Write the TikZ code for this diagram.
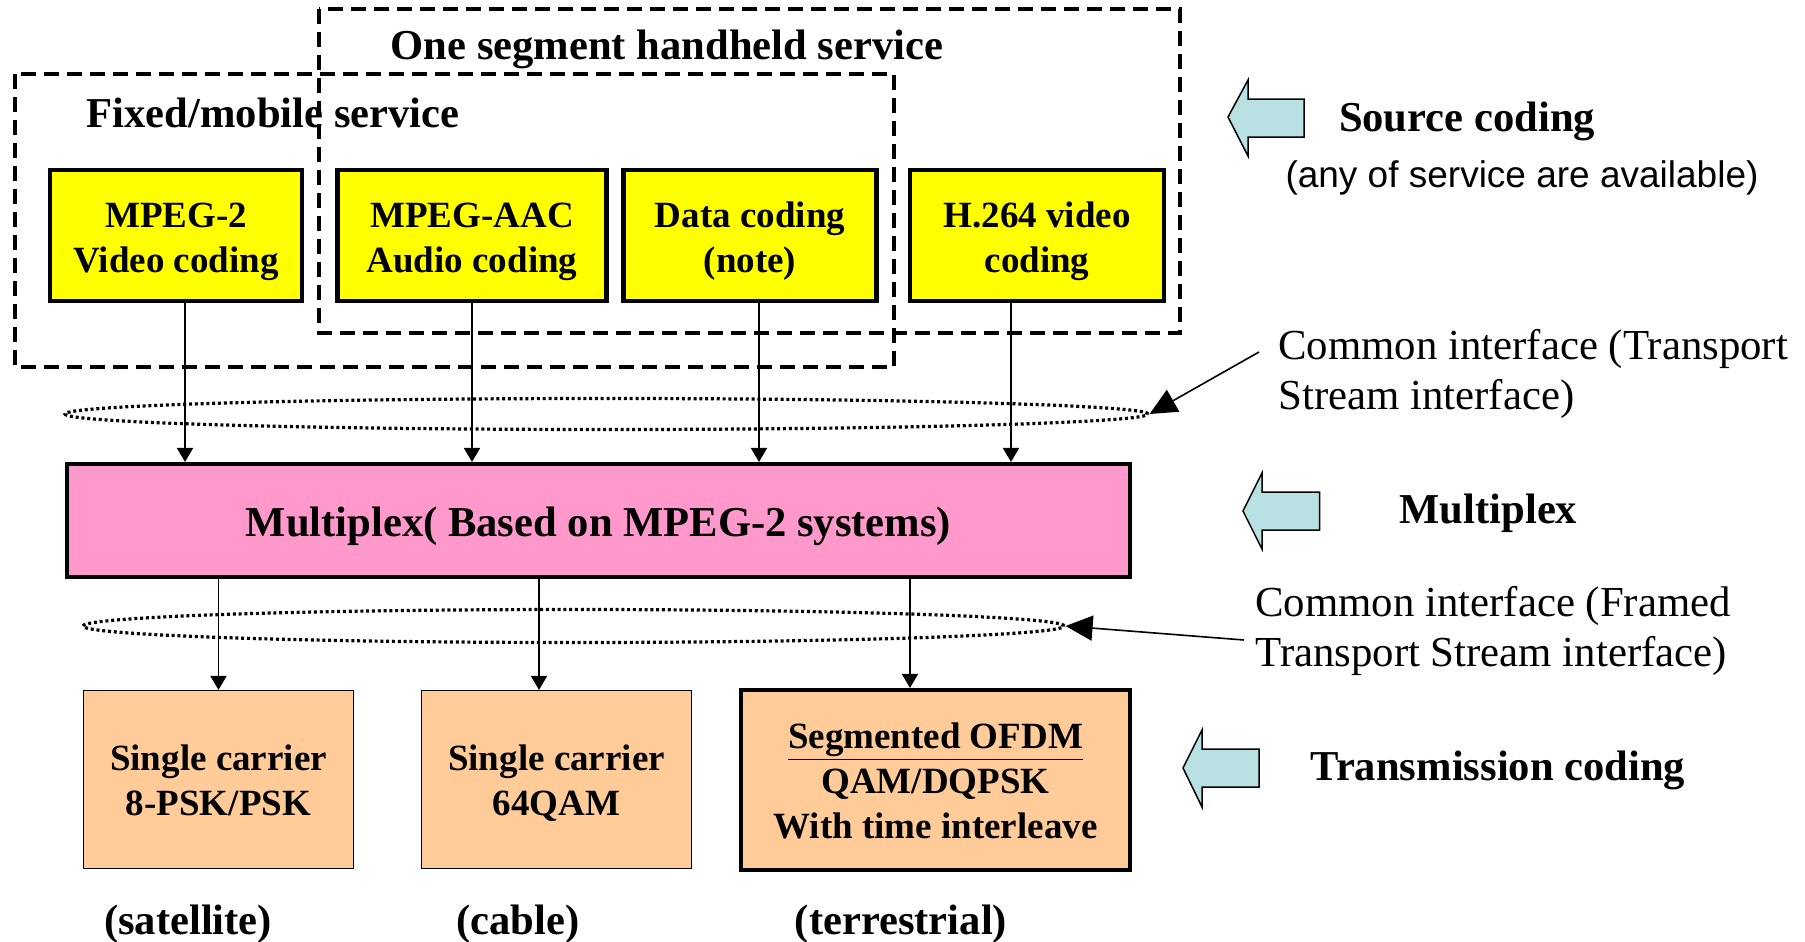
\documentclass[tikz,border=0pt]{standalone}
\usepackage{fontspec}
\setmainfont{Liberation Serif}
\newfontfamily\arialfont{Liberation Sans}
\usetikzlibrary{shapes.geometric,arrows.meta}
\definecolor{ylw}{RGB}{255,255,0}
\definecolor{pnk}{RGB}{255,153,204}
\definecolor{org}{RGB}{255,204,153}
\definecolor{lblue}{RGB}{185,224,226}
\newcommand{\myBig}{\fontsize{21.3}{25}\selectfont\bfseries}
\newcommand{\myBox}{\fontsize{18.5}{22.5}\selectfont\bfseries}
\newcommand{\myReg}{\fontsize{21.4}{25.3}\selectfont}
\newcommand{\myArial}{\fontsize{18.5}{22}\selectfont\arialfont}
% lower the ink of a (multi-line) text without changing its reported box
\newcommand{\dn}[2]{\raisebox{-#1}[\height][\depth]{\begin{tabular}{@{}c@{}}#2\end{tabular}}}
\begin{document}
\begin{tikzpicture}[x=0.5pt,y=-0.5pt,
  ybox/.style={draw, fill=ylw, line width=2.25pt, inner sep=0pt, minimum height=65.3pt, font=\myBox},
  mbox/.style={draw, fill=pnk, line width=2.25pt, inner sep=0pt, minimum width=531.3pt, minimum height=56.3pt, font=\myBig},
  obox/.style={draw, fill=org, line width=0.6pt, inner sep=0pt, minimum width=135pt, minimum height=89pt, font=\myBox},
  obold/.style={obox, line width=2.25pt, minimum width=194.3pt, minimum height=89.8pt},
  dashbox/.style={line width=1.6pt, dash pattern=on 7.5pt off 4pt},
  dotell/.style={ellipse, draw, line width=1.6pt, dash pattern=on 1.5pt off 1.4pt, inner sep=0pt},
  conn/.style={line width=0.9pt, -{Triangle[length=7pt,width=8pt]}},
  lead/.style={line width=0.8pt, -{Triangle[length=13.5pt,width=12.5pt]}},
  barrow/.style={draw, fill=lblue, line width=0.75pt, line join=miter},
  ttl/.style={font=\myBig, inner sep=0pt},
  reg/.style={font=\myReg, inner sep=0pt, align=left, anchor=west}
]
\useasboundingbox (0,0) rectangle (1805,942);
\fill[white] (0,0) rectangle (1805,942);

% dashed service groups
\draw[dashbox] (319,9) rectangle (1180,333);
\draw[dashbox] (15,74) rectangle (894,367);
\node[ttl] (t1) at (667,49.5) {One segment handheld service};
\node[ttl] (t2) at (273,113) {Fixed/mobile service};

% source coding boxes
\node[ybox, minimum width=126pt] (y1) at (176,235.5) {\dn{2.75pt}{MPEG-2\\Video coding}};
\node[ybox, minimum width=134.7pt] (y2) at (472,235.5) {\dn{2.75pt}{MPEG-AAC\\Audio coding}};
\node[ybox, minimum width=126.3pt] (y3) at (750,235.5) {\dn{2.75pt}{Data coding\\(note)}};
\node[ybox, minimum width=126.8pt] (y4) at (1037,235.5) {\dn{2.75pt}{H.264 video\\coding}};

% multiplex
\node[mbox] (mux) at (598.5,520.5) {\dn{2.9pt}{Multiplex( Based on MPEG-2 systems)}};

% interface ellipses
\node[dotell, minimum width=541.5pt, minimum height=15.5pt] (e1) at (606.5,414) {};
\node[dotell, minimum width=490.5pt, minimum height=16.5pt] (e2) at (573.5,626) {};

% transmission boxes
\node[obox] (oA) at (218.5,779.5) {\dn{2.2pt}{Single carrier\\8-PSK/PSK}};
\node[obox] (oB) at (556.5,779.5) {\dn{2.2pt}{Single carrier\\64QAM}};
\node[obold] (oC) at (935.5,780) {\dn{2.2pt}{\underline{Segmented OFDM}\\QAM/DQPSK\\With time interleave}};

\node[ttl] (lA) at (188,924.5) {(satellite)};
\node[ttl] (lB) at (518,924.5) {(cable)};
\node[ttl] (lC) at (901,924.5) {(terrestrial)};

% connectors
\draw[conn] ([xshift=4.5pt]y1.south) -- ([xshift=4.5pt]y1.south |- mux.north);
\draw[conn] (y2.south) -- (y2.south |- mux.north);
\draw[conn] ([xshift=4.5pt]y3.south) -- ([xshift=4.5pt]y3.south |- mux.north);
\draw[conn] ([xshift=-13pt]y4.south) -- ([xshift=-13pt]y4.south |- mux.north);
\draw[conn] (oA.north |- mux.south) -- (oA.north);
\draw[conn] ([xshift=-8.75pt]oB.north |- mux.south) -- ([xshift=-8.75pt]oB.north);
\draw[conn] ([xshift=-12.75pt]oC.north |- mux.south) -- ([xshift=-12.75pt]oC.north);

% right side labels
\draw[barrow] (1228,117) -- (1248,80) -- (1248,99) -- (1304,99) -- (1304,137) -- (1248,137) -- (1248,156) -- cycle;
\node[ttl] (src) at (1467,121) {Source coding};
\node[font=\myArial, inner sep=0pt] (any) at (1522,177.5) {(any of service are available)};

\node[reg] (ci1) at (1278,374) {Common interface (Transport\\Stream interface)};
\coordinate (l1) at (1259,352);
\draw[lead] (l1) -- (e1.east);

\draw[barrow] (1243,511) -- (1262,473) -- (1262,492) -- (1319.5,492) -- (1319.5,530) -- (1262,530) -- (1262,549) -- cycle;
\node[ttl] (mx) at (1488.5,513.5) {Multiplex};

\node[reg] (ci2) at (1255,631) {Common interface (Framed\\Transport Stream interface)};
\coordinate (l2) at (1244,640);
\draw[lead] (l2) -- (e2.east);

\draw[barrow] (1183,768) -- (1202,730) -- (1202,749) -- (1259,749) -- (1259,787) -- (1202,787) -- (1202,807) -- cycle;
\node[ttl] (tc) at (1498,770.5) {Transmission coding};
\end{tikzpicture}
\end{document}
